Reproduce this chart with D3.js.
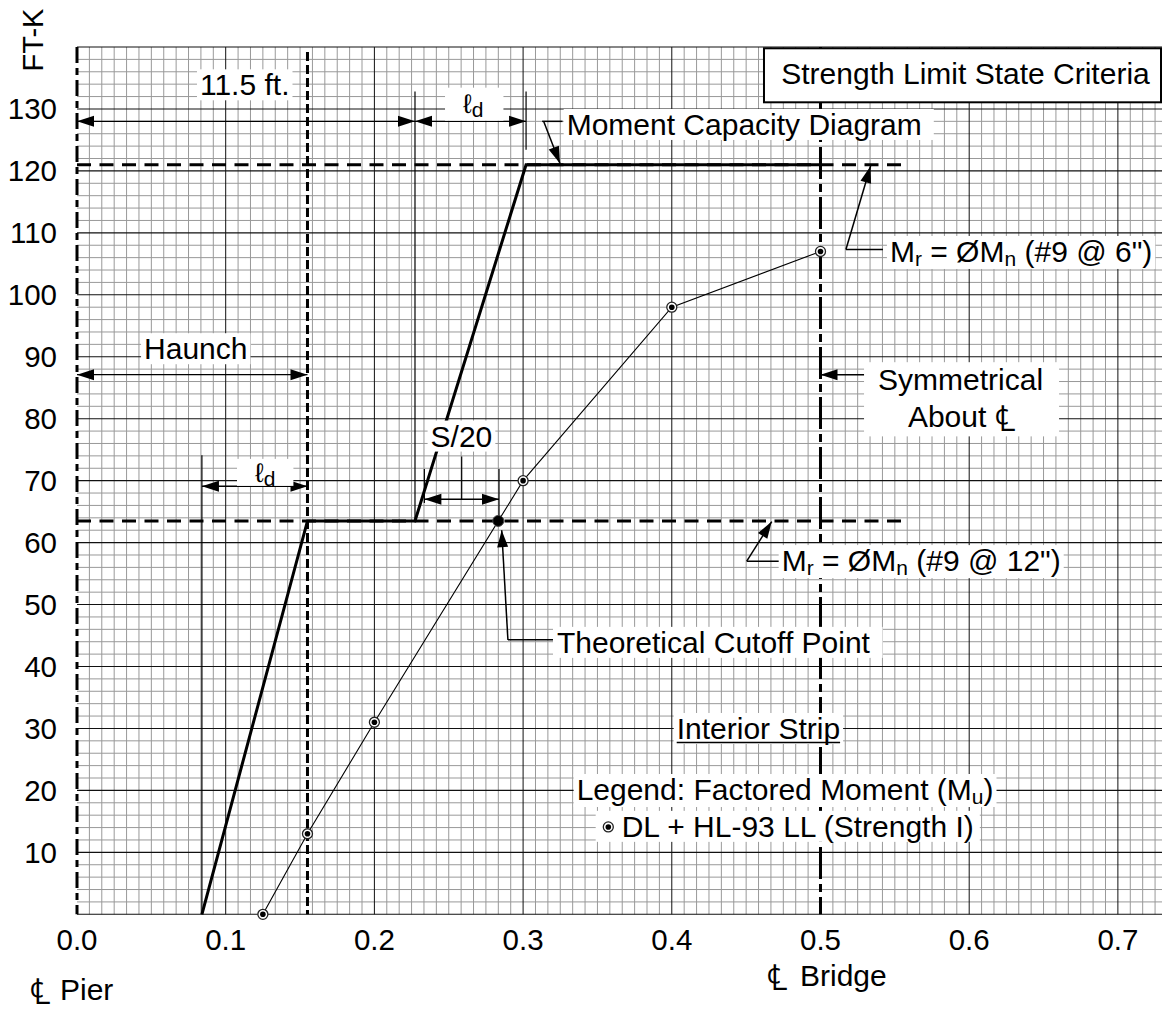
<!DOCTYPE html>
<html><head><meta charset="utf-8">
<script src="https://cdn.jsdelivr.net/npm/d3@7"></script>
<style>
html,body{margin:0;padding:0;background:#fff;}
svg{display:block;}
text{font-family:"Liberation Sans",Arial,Helvetica,sans-serif;fill:#000;}
</style></head><body>
<svg id="chart" width="1162" height="1013"></svg>
<script>
// ---------------- DATA ----------------
const xTicks = [0.0, 0.1, 0.2, 0.3, 0.4, 0.5, 0.6, 0.7];
const xTickLabels = ["0.0", "0.1", "0.2", "0.3", "0.4", "0.5", "0.6", "0.7"];
const yTicks = [10, 20, 30, 40, 50, 60, 70, 80, 90, 100, 110, 120, 130];
const yTickLabels = ["10", "20", "30", "40", "50", "60", "70", "80", "90", "100", "110", "120", "130"];

// Factored moment Mu : DL + HL-93 LL (Strength I)
const momentX = [0.125, 0.155, 0.2, 0.3, 0.4, 0.5];
const momentY = [0, 13, 31, 70, 98, 107];

// Moment capacity diagram
const capacityX = [0.084, 0.155, 0.2273, 0.302, 0.5];
const capacityY = [0, 63.5, 63.5, 121, 121];

// Mr = ØMn levels (#9 @ 12", #9 @ 6")
const mrLevels = [63.5, 121];
const mrLineEnd = 0.555;

// Theoretical cutoff point
const cutoffX = [0.2833];
const cutoffY = [63.5];

// Reference lines: CL pier, haunch end, CL bridge
const pierX = 0, haunchX = 0.155, bridgeX = 0.5;

// Dimension lines [y, x1, x2]
const dimY  = [128, 128, 87.1, 69.1, 67.0];
const dimX1 = [0, 0.2273, 0, 0.084, 0.2336];
const dimX2 = [0.2273, 0.302, 0.155, 0.155, 0.2838];

// Extension lines [x, y1, y2]
const extX  = [0.2273, 0.302, 0.084, 0.2336, 0.2838, 0.2587];
const extY1 = [132.8, 132.8, 74.1, 71.9, 71.9, 73.9];
const extY2 = [63.6, 123.4, 0, 66.4, 63.5, 67.0];

// ---------------- SETUP ----------------
const svg = d3.select("#chart");
const x = d3.scaleLinear().domain([0, 0.73]).range([77, 1162.5]);
const y = d3.scaleLinear().domain([0, 140]).range([914.3, 47]);

const gGrid = svg.append("g");
const gLines = svg.append("g");
const gLabels = svg.append("g");

// grid
const minorX = d3.range(1, 88).filter(i => i % 12 !== 0).map(i => i / 120);
const minorY = d3.range(2, 140, 2).filter(v => v % 10 !== 0);
const majorX = [0.1, 0.2, 0.3, 0.4, 0.6, 0.7];
const majorY = d3.range(0, 141, 10);

gGrid.selectAll(".mx").data(minorX).join("line")
  .attr("x1", d => x(d)).attr("x2", d => x(d)).attr("y1", y(140)).attr("y2", y(0))
  .attr("stroke", "#999").attr("stroke-width", 1);
gGrid.selectAll(".my").data(minorY).join("line")
  .attr("x1", x(0)).attr("x2", x(0.73)).attr("y1", d => y(d)).attr("y2", d => y(d))
  .attr("stroke", "#999").attr("stroke-width", 1);
gGrid.selectAll(".Mx").data(majorX).join("line")
  .attr("x1", d => x(d)).attr("x2", d => x(d)).attr("y1", y(140)).attr("y2", y(0))
  .attr("stroke", "#111").attr("stroke-width", 1);
gGrid.selectAll(".My").data(majorY).join("line")
  .attr("x1", x(0)).attr("x2", x(0.73)).attr("y1", d => y(d)).attr("y2", d => y(d))
  .attr("stroke", "#111").attr("stroke-width", 1.1);

// axes tick labels
svg.append("g").selectAll("text").data(yTicks).join("text")
  .attr("x", 57).attr("y", d => y(d) + 10.5)
  .attr("text-anchor", "end").attr("font-size", 29.5)
  .text((d, i) => yTickLabels[i]);
svg.append("g").selectAll("text").data(xTicks).join("text")
  .attr("x", d => x(d)).attr("y", 950)
  .attr("text-anchor", "middle").attr("font-size", 29.5)
  .text((d, i) => xTickLabels[i]);

svg.append("text").attr("transform", "translate(43,40) rotate(-90)")
  .attr("text-anchor", "middle").attr("font-size", 29).text("FT-K");

// ---------------- helpers ----------------
function seg(g, x1, y1, x2, y2, w, dash) {
  const l = g.append("line").attr("x1", x1).attr("y1", y1).attr("x2", x2).attr("y2", y2)
    .attr("stroke", "#000").attr("stroke-width", w);
  if (dash) l.attr("stroke-dasharray", dash);
  return l;
}
function head(g, fx, fy, tx, ty, L = 17, hw = 5.5) {
  const dx = tx - fx, dy = ty - fy, len = Math.hypot(dx, dy);
  const ux = dx / len, uy = dy / len;
  const bx = tx - ux * L, by = ty - uy * L;
  const px = -uy * hw, py = ux * hw;
  g.append("path").attr("d", `M${tx},${ty}L${bx + px},${by + py}L${bx - px},${by - py}Z`)
    .attr("fill", "#000");
}
function arrow(g, fx, fy, tx, ty, w = 1.5) {
  seg(g, fx, fy, tx, ty, w);
  head(g, fx, fy, tx, ty);
}
function label(g, xp, yp, parts, size = 30, pad = [3, 1, 3, -1]) {
  const gg = g.append("g");
  const t = gg.append("text").attr("x", xp).attr("y", yp).attr("font-size", size);
  let sub = false;
  parts.forEach(p => {
    const ts = t.append("tspan").text(p.t);
    if (p.font) ts.style("font-family", p.font);
    if (p.size) ts.attr("font-size", p.size);
    if (p.sub && !sub) { ts.attr("font-size", p.size || 21).attr("dy", 4); sub = true; }
    else if (!p.sub && sub) { ts.attr("dy", -4); sub = false; }
  });
  const b = t.node().getBBox();
  // pad: [left, top, right, bottom]
  gg.insert("rect", "text").attr("x", b.x - pad[0]).attr("y", b.y - pad[1] + 2)
    .attr("width", b.width + pad[0] + pad[2]).attr("height", b.height + pad[1] + pad[3] - 2)
    .attr("fill", "#fff");
  return t;
}
// centre-line symbol + text
function clText(g, xp, yp, rest, gap) {
  const t = g.append("text").attr("x", xp).attr("y", yp).attr("font-size", 30);
  t.append("tspan").style("font-family", "'DejaVu Sans'").style("font-weight", 300)
    .attr("font-size", 36).attr("dy", 4).text("\u2104");
  t.append("tspan").attr("dx", gap).attr("dy", -4).text(rest);
  return t;
}

// ---------------- reference lines ----------------
seg(gLines, x(pierX), y(140), x(pierX), y(0), 3, "16,5,7,5");
seg(gLines, x(haunchX), y(139.2), x(haunchX), y(0), 3, "9,4");
seg(gLines, x(bridgeX), y(140), x(bridgeX), y(0), 3, "32,5,8,5");

// Mr levels (dashed)
mrLevels.forEach(v => seg(gLines, x(0), y(v), x(mrLineEnd), y(v), 3, "14,8.5"));

// capacity diagram
const lineGen = d3.line().x(d => x(d[0])).y(d => y(d[1]));
gLines.append("path").datum(capacityX.map((v, i) => [v, capacityY[i]]))
  .attr("d", lineGen).attr("fill", "none").attr("stroke", "#000").attr("stroke-width", 3)
  .attr("stroke-linejoin", "miter");

// extension lines
extX.forEach((v, i) => seg(gLines, x(v), y(extY1[i]), x(v), y(extY2[i]), 1.2));

// dimension lines
dimY.forEach((v, i) => {
  const a = x(dimX1[i]), b = x(dimX2[i]), yy = y(v);
  seg(gLines, a, yy, b, yy, 1.3);
  head(gLines, b, yy, a, yy);
  head(gLines, a, yy, b, yy);
});

// factored moment line + markers
const mPts = momentX.map((v, i) => [v, momentY[i]]);
gLines.append("path").datum(mPts).attr("d", lineGen)
  .attr("fill", "none").attr("stroke", "#000").attr("stroke-width", 1.1);
function marker(g, cx, cy) {
  g.append("circle").attr("cx", cx).attr("cy", cy).attr("r", 5)
    .attr("fill", "#fff").attr("stroke", "#222").attr("stroke-width", 1.3);
  g.append("circle").attr("cx", cx).attr("cy", cy).attr("r", 2.8).attr("fill", "#000");
}
mPts.forEach(p => marker(gLines, x(p[0]), y(p[1])));
cutoffX.forEach((v, i) => {
  gLines.append("circle").attr("cx", x(v)).attr("cy", y(cutoffY[i])).attr("r", 5.5)
    .attr("fill", "#000").attr("stroke", "#444").attr("stroke-width", 1);
});

// ---------------- leaders ----------------
seg(gLines, x(0.3128), y(128), x(0.3265), y(128), 1.5);
arrow(gLines, x(0.3138), y(128), x(0.3248), y(121.2));
seg(gLines, x(0.5171), y(107.3), x(0.5420), y(107.3), 1.5);
arrow(gLines, x(0.5171), y(107.3), x(0.5337), y(120.8));
seg(gLines, x(0.4504), y(57.0), x(0.4728), y(57.0), 1.5);
arrow(gLines, x(0.4504), y(57.0), x(0.4672), y(63.4));
arrow(gLines, x(0.5333), y(87.1), x(0.5), y(87.1));
seg(gLines, x(0.2898), y(44.3), x(0.3215), y(44.3), 1.5);
arrow(gLines, x(0.2898), y(44.3), x(0.2856), y(62.0));

// ---------------- labels ----------------
label(gLabels, x(0.0827), y(132.2), [{t: "11.5 ft."}]);
label(gLabels, x(0.2596), y(129.4), [{t: "\u2113", size: 27}, {t: "d", sub: true, size: 21}], 30, [18, 3, 20, 0]);
label(gLabels, x(0.0451), y(89.6), [{t: "Haunch"}]);
label(gLabels, x(0.1197), y(69.8), [{t: "\u2113", size: 27}, {t: "d", sub: true, size: 21}], 30, [18, 1, 18, -4]);
label(gLabels, x(0.2378), y(75.5), [{t: "S/20"}]);
label(gLabels, x(0.3293), y(125.8), [{t: "Moment Capacity Diagram"}], 30, [3, 1, 12, -1]);
label(gLabels, x(0.5467), y(105.3), [{t: "M"}, {t: "r", sub: true}, {t: " = \u00D8M"}, {t: "n", sub: true}, {t: " (#9 @ 6\")"}]);
label(gLabels, x(0.4739), y(55.4), [{t: "M"}, {t: "r", sub: true}, {t: " = \u00D8M"}, {t: "n", sub: true}, {t: " (#9 @ 12\")"}]);

// Symmetrical About CL (one box)
{
  const gg = gLabels.append("g");
  const r = gg.append("rect").attr("fill", "#fff");
  const t1 = gg.append("text").attr("x", x(0.5387)).attr("y", y(84.6)).attr("font-size", 30).text("Symmetrical");
  const t2 = gg.append("text").attr("x", x(0.5588)).attr("y", y(78.6)).attr("font-size", 30);
  t2.append("tspan").text("About ");
  t2.append("tspan").style("font-family", "'DejaVu Sans'").style("font-weight", 300)
    .attr("font-size", 36).attr("dy", 4).text("\u2104");
  const b1 = t1.node().getBBox(), b2 = t2.node().getBBox();
  const x0 = Math.min(b1.x, b2.x) - 14, x1 = Math.max(b1.x + b1.width, b2.x + b2.width) + 16;
  r.attr("x", x0).attr("y", b1.y - 1).attr("width", x1 - x0).attr("height", b2.y + b2.height - b1.y - 2);
}

label(gLabels, x(0.3228), y(42.2), [{t: "Theoretical Cutoff Point"}], 30, [4, 1, 12, -1]);
{
  const t = label(gLabels, x(0.4033), y(28.3), [{t: "Interior Strip"}]);
  const b = t.node().getBBox();
  seg(gLabels, b.x, y(28.3) + 3.5, b.x + b.width, y(28.3) + 3.5, 1.6);
}
label(gLabels, x(0.3360), y(18.45), [{t: "Legend: Factored Moment (M"}, {t: "u", sub: true}, {t: ")"}]);
{
  label(gLabels, x(0.3663), y(12.5), [{t: "DL + HL-93 LL (Strength I)"}], 30, [26, 1, 6, -1]);
  marker(gLabels, x(0.3573), y(14.1));
}

// Strength Limit State Criteria box
{
  const bx0 = x(0.462), bx1 = 1161, by0 = 48.3, by1 = 102.3;
  gLabels.append("rect").attr("x", bx0).attr("y", by0).attr("width", bx1 - bx0).attr("height", by1 - by0)
    .attr("fill", "#fff").attr("stroke", "#000").attr("stroke-width", 2);
  gLabels.append("text").attr("x", (bx0 + bx1) / 2 + 3).attr("y", y(134.0)).attr("text-anchor", "middle")
    .attr("font-size", 30).text("Strength Limit State Criteria");
}

// CL labels below axis
clText(svg, 30, 1000, "Pier", 9);
clText(svg, 767, 985.7, "Bridge", 12);
</script>
</body></html>
